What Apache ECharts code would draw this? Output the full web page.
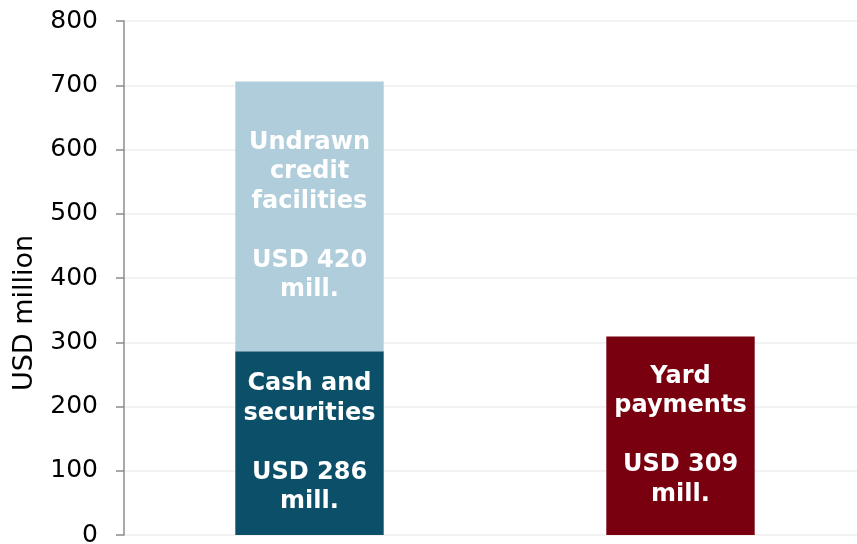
<!DOCTYPE html>
<html>
<head>
<meta charset="utf-8">
<script src="https://cdn.jsdelivr.net/npm/echarts@6/dist/echarts.min.js"></script>
<style>
html,body{margin:0;padding:0;background:#fff;}
#chart{width:857px;height:544px;}
</style>
</head>
<body>
<div id="chart"></div>
<script>
const categories = ['Liquidity', 'Yard payments'];
const cashValues = [286, '-'];
const undrawnValues = [420, '-'];
const yardValues = ['-', 309];
const cashLabel = 'Cash and\nsecurities\n\nUSD 286\nmill.';
const undrawnLabel = 'Undrawn\ncredit\nfacilities\n\nUSD 420\nmill.';
const yardLabel = 'Yard\npayments\n\nUSD 309\nmill.';
const yTicks = [0, 100, 200, 300, 400, 500, 600, 700, 800];
const yAxisTitle = 'USD million';

const FONT = 'DejaVu Sans';
const chart = echarts.init(document.getElementById('chart'));
const labelStyle = (txt) => ({
  show: true,
  position: 'inside',
  formatter: () => txt,
  color: '#ffffff',
  fontFamily: FONT,
  fontWeight: 'bold',
  fontSize: 24,
  lineHeight: 29.5,
  align: 'center'
});
chart.setOption({
  animation: false,
  grid: { left: 124, width: 742, top: 21, height: 514, containLabel: false, outerBoundsMode: 'none' },
  graphic: [{
    type: 'text',
    x: 25, y: 313,
    rotation: Math.PI / 2,
    style: {
      text: yAxisTitle,
      font: '27px "DejaVu Sans"',
      fill: '#000',
      textAlign: 'center',
      textVerticalAlign: 'middle'
    }
  }],
  xAxis: {
    type: 'category',
    data: categories,
    axisLine: { show: false },
    axisTick: { show: false },
    axisLabel: { show: false }
  },
  yAxis: {
    type: 'value',
    min: yTicks[0],
    max: yTicks[yTicks.length - 1],
    interval: 100,
    axisLine: { show: true, lineStyle: { color: '#8c8c8c', width: 1.5 } },
    axisTick: { show: true, length: 8, lineStyle: { color: '#8c8c8c', width: 1.5 } },
    axisLabel: { margin: 26, color: '#000', fontFamily: FONT, fontSize: 25 },
    splitLine: { show: true, lineStyle: { color: '#eeeeee', width: 1.5 } }
  },
  series: [
    { name: 'Cash and securities', type: 'bar', stack: 'a', barWidth: '40%', data: cashValues,
      itemStyle: { color: '#0c4f69' }, label: labelStyle(cashLabel) },
    { name: 'Undrawn credit facilities', type: 'bar', stack: 'a', barWidth: '40%', data: undrawnValues,
      itemStyle: { color: '#b0cddb' }, label: labelStyle(undrawnLabel) },
    { name: 'Yard payments', type: 'bar', stack: 'a', barWidth: '40%', data: yardValues,
      itemStyle: { color: '#78000f' }, label: labelStyle(yardLabel) }
  ]
});
</script>
</body>
</html>
